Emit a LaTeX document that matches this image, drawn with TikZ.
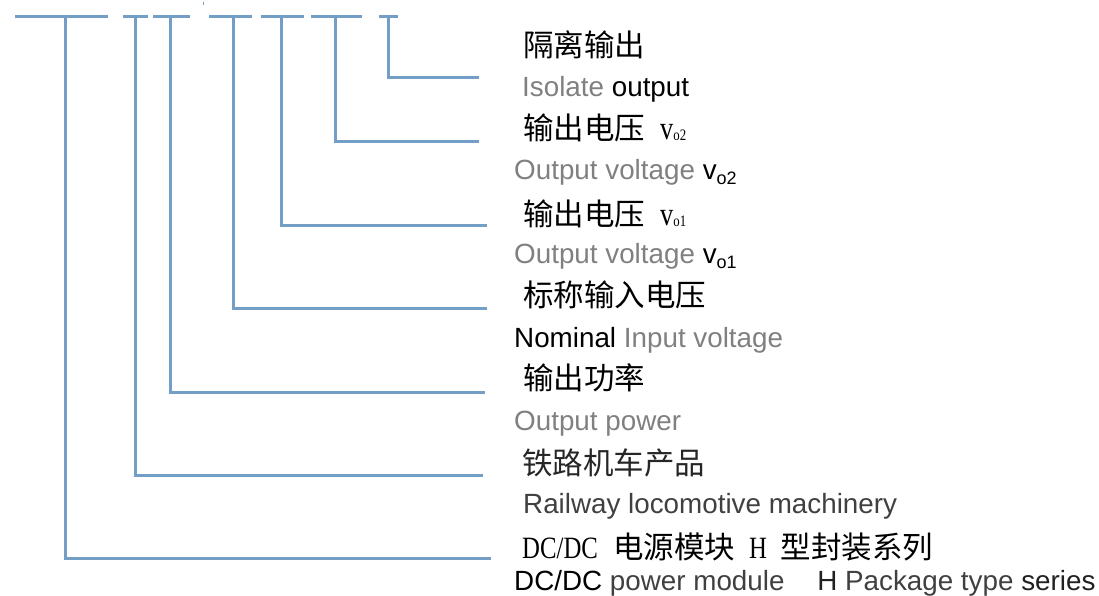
\documentclass[tikz,border=0pt]{standalone}
\usepackage{fontspec}
\setmainfont{Liberation Sans}
\newfontfamily\cjk{Noto Sans CJK SC}
\newfontfamily\narrowserif[FakeStretch=0.8]{Liberation Serif}
\usepackage{xcolor}
\usetikzlibrary{calc}

\definecolor{linkblue}{RGB}{115,158,198}
\definecolor{labgray}{RGB}{128,128,128}
\definecolor{labdark}{RGB}{64,64,64}

\newcommand{\cnfont}{\cjk\fontsize{30.5}{32}\selectfont}
\newcommand{\enfont}{\fontsize{27.8}{30}\selectfont}
% v with subscript, in the Chinese lines and in the English lines
\newcommand{\vcn}[1]{{\narrowserif\fontsize{33}{34}\selectfont v\raisebox{-1pt}{\fontsize{16}{16}\selectfont o#1}}}
\newcommand{\ven}[1]{v\raisebox{-5pt}{\fontsize{18}{18}\selectfont o#1}}
\newcommand{\cnlat}[1]{{\narrowserif\fontsize{31}{32}\selectfont #1}}

\tikzset{
  link/.style={draw=linkblue, line width=3pt},
  cnlabel/.style={anchor=base west, inner sep=0pt, font=\cnfont},
  enlabel/.style={anchor=base west, inner sep=0pt, font=\enfont, text=labgray}
}

\begin{document}
\begin{tikzpicture}[x=1pt,y=-1pt]
\useasboundingbox (0,0) rectangle (1099,596);
% Code bars
\foreach \xa/\xb in {15/108,123/148,153/190,209/252,261/304,311/362,379/398}
  \draw[link] (\xa,17)--(\xb,17);
\draw[linkblue,line width=0.8pt] (203,2)--(203,5);
% Tap points and line ends
\coordinate (t1) at (65,17);  \coordinate (e1) at (491,558);
\coordinate (t2) at (135,17); \coordinate (e2) at (483,475);
\coordinate (t3) at (170,17); \coordinate (e3) at (485,392);
\coordinate (t4) at (233,17); \coordinate (e4) at (487,308);
\coordinate (t5) at (281,17); \coordinate (e5) at (487,225);
\coordinate (t6) at (335,17); \coordinate (e6) at (479,142);
\coordinate (t7) at (388,17); \coordinate (e7) at (479,78);
% Leaders
\foreach \i in {1,...,7}
  \draw[link] (t\i) |- (e\i);
% Labels
\node[cnlabel] (cn7) at (523,57) {隔离输出};
\node[enlabel] (en7) at (522,97) {Isolate \textcolor{black}{output}};
\node[cnlabel] (cn6) at (523,140) {输出电压\hspace{15pt}\vcn{2}};
\node[enlabel] (en6) at (514,179) {Output voltage \textcolor{black}{\ven{2}}};
\node[cnlabel] (cn5) at (523,225) {输出电压\hspace{15pt}\vcn{1}};
\node[enlabel] (en5) at (514,263) {Output voltage \textcolor{black}{\ven{1}}};
\node[cnlabel] (cn4) at (523,306) {标称输入电压};
\node[enlabel] (en4) at (514,347) {\textcolor{black}{Nominal} Input voltage};
\node[cnlabel] (cn3) at (523,389) {输出功率};
\node[enlabel] (en3) at (514,430) {Output power};
\node[cnlabel,text=black!85] (cn2) at (522,474) {铁路机车产品};
\node[enlabel,text=labdark] (en2) at (523,513) {Railway locomotive machinery};
\node[cnlabel] (cn1) at (522,558) {\cnlat{DC/DC}\hspace{15pt}电源模块\hspace{14pt}\cnlat{H}\hspace{14pt}型封装系列};
\node[enlabel,text=labdark] (en1) at (514,590)
  {\textcolor{black}{DC/DC} power module\hspace{25pt} \textcolor{black!87}{H} Package type \textcolor{black!87}{series}};
\end{tikzpicture}
\end{document}
